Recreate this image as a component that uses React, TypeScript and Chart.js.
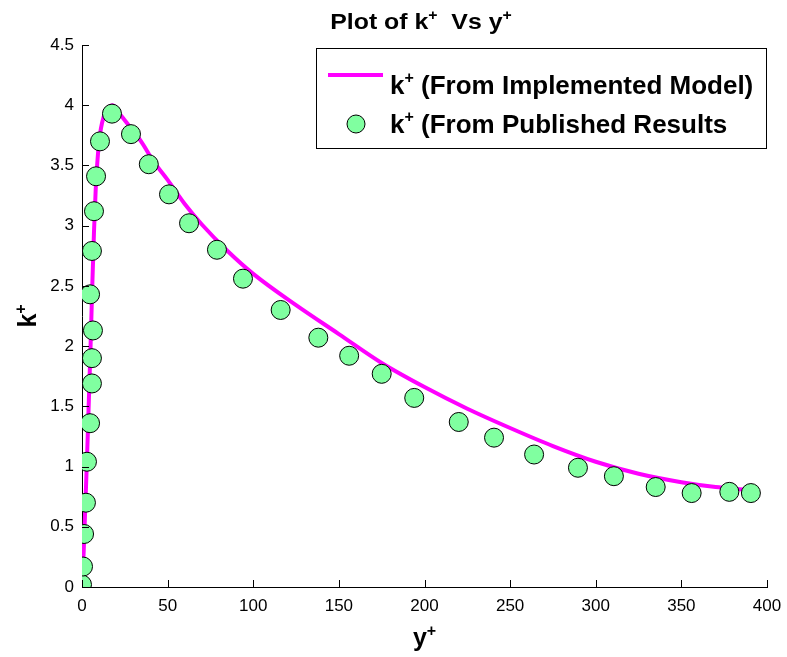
import React, { useEffect, useRef } from "react";
import { Chart, registerables } from "chart.js";

Chart.register(...registerables);

// Published results (markers)
const pubX = [0, 0.6, 1.2, 2.3, 2.9, 4.7, 5.8, 5.8, 6.4, 4.7, 5.8, 7.0, 8.2, 10.5, 17.5, 28.6, 39, 50.8, 62.5, 78.8, 94, 116, 138, 156, 175, 194, 220, 240.6, 264, 289.6, 310.6, 335, 356, 378, 390.6];
const pubY = [0.02, 0.17, 0.44, 0.7, 1.04, 1.36, 1.69, 1.9, 2.13, 2.43, 2.79, 3.12, 3.41, 3.7, 3.93, 3.76, 3.51, 3.26, 3.02, 2.8, 2.56, 2.3, 2.07, 1.92, 1.77, 1.57, 1.37, 1.24, 1.1, 0.99, 0.92, 0.83, 0.78, 0.79, 0.78];

// Implemented model (line)
const modelX = [0, 1, 2, 3, 4, 5, 6, 7, 8, 10, 13, 16, 18, 22, 28, 34, 42, 50, 60, 70, 85, 100, 125, 150, 175, 200, 225, 250, 275, 300, 325, 350, 370, 386];
const modelY = [0, 0.3, 0.7, 1.1, 1.55, 2.0, 2.5, 2.95, 3.3, 3.7, 3.92, 3.99, 4.0, 3.93, 3.82, 3.71, 3.53, 3.38, 3.18, 3.01, 2.79, 2.6, 2.34, 2.1, 1.86, 1.66, 1.48, 1.32, 1.17, 1.04, 0.94, 0.87, 0.83, 0.81];

const xTicks = [0, 50, 100, 150, 200, 250, 300, 350, 400];
const yTicks = [0, 0.5, 1, 1.5, 2, 2.5, 3, 3.5, 4, 4.5];

const title = [["Plot of k", false], ["+", true], ["  Vs y", false], ["+", true]] as [string, boolean][];
const legendLabels = ["k", " (From Implemented Model)", " (From Published Results"];

const MAGENTA = "#FF00FF";
const GREEN = "#80FFA0";
const FONT = "'Liberation Sans', Arial, sans-serif";

function drawRich(ctx: CanvasRenderingContext2D, parts: [string, boolean][], x: number, y: number, size: number, align: "left" | "center", hScale = 1) {
  const supSize = Math.round(size * 0.62);
  let total = 0;
  const widths: number[] = [];
  for (const [t, sup] of parts) {
    ctx.font = `bold ${sup ? supSize : size}px ${FONT}`;
    const w = ctx.measureText(t).width;
    widths.push(w);
    total += w;
  }
  ctx.save();
  const startX = align === "center" ? x - (total * hScale) / 2 : x;
  ctx.translate(startX, y);
  ctx.scale(hScale, 1);
  let cx = 0;
  ctx.textAlign = "left";
  ctx.textBaseline = "alphabetic";
  parts.forEach(([t, sup], i) => {
    ctx.font = `bold ${sup ? supSize : size}px ${FONT}`;
    ctx.fillText(t, cx, sup ? -size * 0.42 : 0);
    cx += widths[i];
  });
  ctx.restore();
}

const decorPlugin = {
  id: "decor",
  afterDraw(chart: any) {
    const ctx = chart.ctx as CanvasRenderingContext2D;
    const { left, right, top, bottom } = chart.chartArea;
    const xs = chart.scales.x;
    const ys = chart.scales.y;
    ctx.save();
    ctx.fillStyle = "#000";
    ctx.strokeStyle = "#000";
    // inward ticks
    ctx.lineWidth = 1;
    ctx.beginPath();
    xTicks.forEach((v) => {
      const px = Math.round(xs.getPixelForValue(v)) + 0.5;
      ctx.moveTo(px, bottom);
      ctx.lineTo(px, bottom - 7);
    });
    yTicks.forEach((v) => {
      const py = Math.round(ys.getPixelForValue(v)) + 0.5;
      ctx.moveTo(left, py);
      ctx.lineTo(left + 7, py);
    });
    ctx.stroke();

    // title
    drawRich(ctx, title, 421, 29, 22, "center", 1.13);

    // axis titles
    drawRich(ctx, [["y", false], ["+", true]], (left + right) / 2, 646, 25, "center");
    ctx.save();
    ctx.translate(36, (top + bottom) / 2);
    ctx.rotate(-Math.PI / 2);
    drawRich(ctx, [["k", false], ["+", true]], 0, 0, 25, "center");
    ctx.restore();

    // legend
    const lx = 316, ly = 48, lw = 450, lh = 100;
    ctx.fillStyle = "#fff";
    ctx.fillRect(lx, ly, lw, lh);
    ctx.strokeStyle = "#000";
    ctx.lineWidth = 1;
    ctx.strokeRect(lx + 0.5, ly + 0.5, lw, lh);
    ctx.strokeStyle = MAGENTA;
    ctx.lineWidth = 4;
    ctx.beginPath();
    ctx.moveTo(328, 75);
    ctx.lineTo(383, 75);
    ctx.stroke();
    ctx.beginPath();
    ctx.arc(356, 124, 9, 0, Math.PI * 2);
    ctx.fillStyle = GREEN;
    ctx.fill();
    ctx.strokeStyle = "#000";
    ctx.lineWidth = 1;
    ctx.stroke();
    ctx.fillStyle = "#000";
    drawRich(ctx, [[legendLabels[0], false], ["+", true], [legendLabels[1], false]], 390, 94, 26, "left");
    drawRich(ctx, [[legendLabels[0], false], ["+", true], [legendLabels[2], false]], 390, 133, 26, "left");
    ctx.restore();
  },
};

export default function App() {
  const ref = useRef<HTMLCanvasElement>(null);
  useEffect(() => {
    if (!ref.current) return;
    const chart = new Chart(ref.current, {
      type: "scatter",
      data: {
        datasets: [
          {
            label: "model",
            type: "line",
            data: modelX.map((x, i) => ({ x, y: modelY[i] })),
            borderColor: MAGENTA,
            borderWidth: 4,
            pointRadius: 0,
            fill: false,
            cubicInterpolationMode: "monotone",
            order: 2,
          } as any,
          {
            label: "published",
            data: pubX.map((x, i) => ({ x, y: pubY[i] })),
            backgroundColor: GREEN,
            borderColor: "#000",
            borderWidth: 1,
            pointRadius: 9.5,
            order: 1,
          },
        ],
      },
      options: {
        animation: false,
        responsive: true,
        maintainAspectRatio: false,
        layout: { padding: { top: 45, right: 20, left: 0, bottom: 0 } },
        plugins: { legend: { display: false }, title: { display: false }, tooltip: { enabled: false } },
        scales: {
          x: {
            type: "linear",
            min: 0,
            max: 400,
            afterFit: (s: any) => { s.height = 70; s.paddingRight = 0; s.paddingLeft = 0; },
            afterBuildTicks: (s: any) => { s.ticks = xTicks.map((v) => ({ value: v })); },
            grid: { display: true, drawOnChartArea: false, drawTicks: false },
            border: { display: true, color: "#000", width: 1 },
            ticks: { color: "#000", padding: 9, font: { family: FONT, size: 17 }, maxRotation: 0 },
          },
          y: {
            type: "linear",
            min: 0,
            max: 4.5,
            afterFit: (s: any) => { s.width = 82; s.paddingTop = 0; s.paddingBottom = 0; },
            afterBuildTicks: (s: any) => { s.ticks = yTicks.map((v) => ({ value: v })); },
            grid: { display: true, drawOnChartArea: false, drawTicks: false },
            border: { display: true, color: "#000", width: 1 },
            ticks: { color: "#000", padding: 8, font: { family: FONT, size: 17 }, callback: (v: any) => String(v) },
          },
        },
      },
      plugins: [decorPlugin],
    });
    return () => chart.destroy();
  }, []);
  return (
    <div style={{ position: "absolute", left: 0, top: 0, width: 787, height: 657, background: "#fff" }}>
      <canvas ref={ref} />
    </div>
  );
}
